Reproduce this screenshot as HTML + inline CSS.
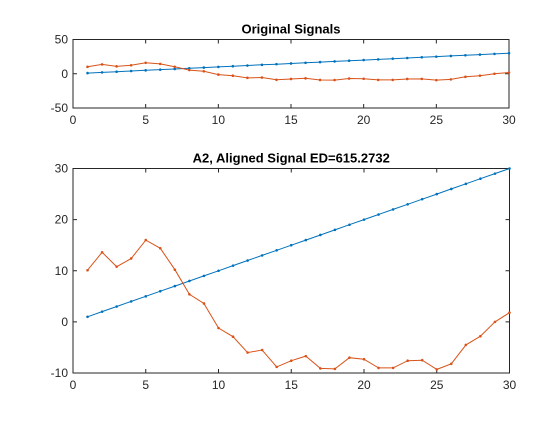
<!DOCTYPE html>
<html><head><meta charset="utf-8"><style>
body{margin:0;background:#fff;}
svg text{font-family:"Liberation Sans",Arial,sans-serif;}
</style></head><body>
<svg id="fig" width="560" height="420" xmlns="http://www.w3.org/2000/svg"></svg>
<script>
const xValues=[1,2,3,4,5,6,7,8,9,10,11,12,13,14,15,16,17,18,19,20,21,22,23,24,25,26,27,28,29,30];
const blueSeries=[1,2,3,4,5,6,7,8,9,10,11,12,13,14,15,16,17,18,19,20,21,22,23,24,25,26,27,28,29,30];
const orangeSeries=[10.1,13.6,10.8,12.4,16.0,14.4,10.2,5.4,3.6,-1.2,-2.9,-6.0,-5.5,-8.8,-7.6,-6.7,-9.1,-9.2,-7.0,-7.3,-9.0,-9.0,-7.6,-7.5,-9.3,-8.2,-4.5,-2.8,0,1.8];
const xTicks=[0,5,10,15,20,25,30];
const topYTicks=[-50,0,50];
const bottomYTicks=[-10,0,10,20,30];
const NS="http://www.w3.org/2000/svg";
const svg=document.getElementById('fig');
function mk(tag,attrs,parent){const e=document.createElementNS(NS,tag);for(const k in attrs)e.setAttribute(k,attrs[k]);(parent||svg).appendChild(e);return e;}
function drawAxes(name,L,R,T,B,xmin,xmax,ymin,ymax,yTicks,title){
  const g=mk('g',{});
  
  
  const sx=v=>L+(v-xmin)/(xmax-xmin)*(R-L);
  const sy=v=>B-(v-ymin)/(ymax-ymin)*(B-T);
  const box=mk('rect',{x:L,y:T,width:R-L,height:B-T,fill:'#fff',stroke:'#262626','stroke-width':1},g);
  
  
  xTicks.forEach(t=>{const x=sx(t);
    mk('line',{x1:x,x2:x,y1:B,y2:B-4,stroke:'#262626'},g);
    mk('line',{x1:x,x2:x,y1:T,y2:T+4,stroke:'#262626'},g);
    const tx=mk('text',{x:x,y:B+16,'text-anchor':'middle','font-size':12,fill:'#262626'},g);tx.textContent=t;
    
    
  });
  yTicks.forEach(t=>{const y=sy(t);
    mk('line',{x1:L,x2:L+4,y1:y,y2:y,stroke:'#262626'},g);
    mk('line',{x1:R,x2:R-4,y1:y,y2:y,stroke:'#262626'},g);
    const tx=mk('text',{x:L-5,y:y+4,'text-anchor':'end','font-size':12,fill:'#262626'},g);tx.textContent=t;
    
    
  });
  const tt=mk('text',{x:(L+R)/2,y:T-6,'text-anchor':'middle','font-size':13,'font-weight':'bold',fill:'#000'},g);tt.textContent=title;
  
  
  [[blueSeries,'#0072bd','blue-series'],[orangeSeries,'#d95319','orange-series']].forEach(([s,c,n])=>{
    const pts=xValues.map((x,i)=>sx(x).toFixed(1)+','+sy(s[i]).toFixed(1)).join(' ');
    const pl=mk('polyline',{points:pts,fill:'none',stroke:c,'stroke-width':1},g);
    
    
    xValues.forEach((x,i)=>{const d=mk('circle',{cx:sx(x),cy:sy(s[i]),r:1.3,fill:c},g);
      
      });
  });
}
drawAxes('top-axes',73,509,39.5,108,0,30,-50,50,topYTicks,'Original Signals');
drawAxes('bottom-axes',73,509.5,168.5,373,0,30,-10,30,bottomYTicks,'A2, Aligned Signal ED=615.2732');
</script>
</body></html>
